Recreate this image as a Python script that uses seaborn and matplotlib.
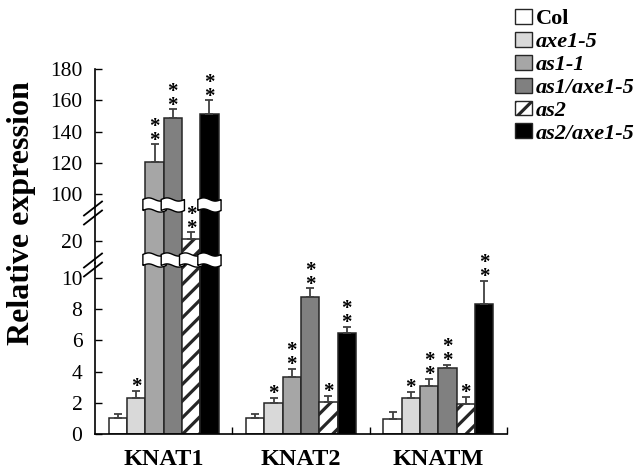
import numpy as np
import pandas as pd
import matplotlib
matplotlib.use('Agg')
import matplotlib.pyplot as plt
import matplotlib.transforms as mtransforms
from matplotlib.patches import Patch, Polygon
from matplotlib.lines import Line2D
import seaborn as sns

plt.rcParams['font.family'] = ['Liberation Serif', 'DejaVu Serif']
plt.rcParams['hatch.linewidth'] = 2.3

genes = ['KNAT1', 'KNAT2', 'KNATM']
genotypes = ['Col', 'axe1-5', 'as1-1', 'as1/axe1-5', 'as2', 'as2/axe1-5']
colors = ['#ffffff', '#d9d9d9', '#a6a6a6', '#808080', '#ffffff', '#000000']

# values, order = genes
col_mean = [1.0, 1.0, 0.96]
col_err = [0.26, 0.26, 0.47]
axe_mean = [2.3, 1.97, 2.29]
axe_err = [0.47, 0.36, 0.42]
as1_mean = [120.6, 3.67, 3.10]
as1_err = [11.2, 0.50, 0.43]
as1axe_mean = [148.4, 8.8, 4.21]
as1axe_err = [5.8, 0.54, 0.21]
as2_mean = [20.4, 2.07, 1.90]
as2_err = [1.3, 0.39, 0.49]
as2axe_mean = [150.9, 6.45, 8.33]
as2axe_err = [9.1, 0.43, 1.48]
# number of significance stars
col_stars = [0, 0, 0]
axe_stars = [1, 1, 1]
as1_stars = [2, 2, 2]
as1axe_stars = [2, 2, 2]
as2_stars = [2, 1, 1]
as2axe_stars = [2, 2, 2]

means = [col_mean, axe_mean, as1_mean, as1axe_mean, as2_mean, as2axe_mean]
errs = [col_err, axe_err, as1_err, as1axe_err, as2_err, as2axe_err]
stars = [col_stars, axe_stars, as1_stars, as1axe_stars, as2_stars, as2axe_stars]

df = pd.DataFrame([
    {'gene': g, 'genotype': gt, 'value': means[j][i]}
    for j, gt in enumerate(genotypes) for i, g in enumerate(genes)
])

W, H = 638, 472
fig = plt.figure(figsize=(W / 100, H / 100), dpi=100)

L, R = 95, 507
bounds = [(69, 207), (207, 263), (263, 434)]
ylims = [(91.7, 180), (15.6, 26.8), (0, 10.96)]
yticks = [[100, 120, 140, 160, 180], [20], [0, 2, 4, 6, 8, 10]]

axes = []
for k, ((top, bot), ylim, ticks) in enumerate(zip(bounds, ylims, yticks)):
    ax = fig.add_axes([L / W, 1 - bot / H, (R - L) / W, (bot - top) / H])
    sns.barplot(data=df, x='gene', y='value', hue='genotype', order=genes,
                hue_order=genotypes, palette=colors, saturation=1,
                errorbar=None, edgecolor='#262626', linewidth=1.1,
                legend=False, ax=ax)
    for bar in ax.containers[4]:
        bar.set_hatch('//')
    for j in range(len(genotypes)):
        xs = [b.get_x() + b.get_width() / 2 for b in ax.containers[j]]
        ax.errorbar(xs, means[j], yerr=[np.zeros(3), errs[j]], fmt='none',
                    ecolor='#404040', elinewidth=1.3, capsize=3, capthick=1.3)
        for i, x in enumerate(xs):
            ytop = means[j][i] + errs[j][i]
            n = stars[j][i]
            if n and ylim[0] < ytop < ylim[1]:
                ax.annotate('\n'.join(['*'] * n), xy=(x, ytop), xytext=(0, -4.5),
                            textcoords='offset points', ha='center', va='bottom',
                            fontsize=15, fontweight='bold', linespacing=0.6,
                            annotation_clip=False)
    ax.set_xlim(-0.5, 2.5)
    ax.set_ylim(*ylim)
    ax.set_yticks(ticks)
    ax.set_xlabel('')
    ax.set_ylabel('')
    ax.tick_params(axis='y', direction='in', length=5, width=1, labelsize=15.5, pad=9)
    for s in ['top', 'right']:
        ax.spines[s].set_visible(False)
    ax.spines['left'].set_linewidth(1.2)
    if k < 2:
        ax.spines['bottom'].set_visible(False)
        ax.set_xticks([])
    else:
        ax.spines['bottom'].set_linewidth(1.2)
        ax.set_xticks([0, 1, 2])
        ax.set_xticklabels(genes, fontsize=17.5, fontweight='bold')
        ax.set_xticks([0.5, 1.5, 2.5], minor=True)
        ax.tick_params(axis='x', which='major', length=0, pad=11)
        ax.tick_params(axis='x', which='minor', direction='in', length=5, width=1)
    ax.patch.set_alpha(0)
    axes.append(ax)

# white wavy bands across the bars where the axis is broken
ax_ref = axes[2]
trans = mtransforms.blended_transform_factory(ax_ref.transData, fig.transFigure)
t = np.linspace(0, 1, 40)
for yb_px, lim in [(205, ylims[1][1]), (260, ylims[2][1])]:
    yb = 1 - yb_px / H
    hh = 5.5 / H
    amp = 1.6 / H
    for j in range(len(genotypes)):
        for i, b in enumerate(ax_ref.containers[j]):
            if means[j][i] <= lim:
                continue
            pad = 0.018
            xs = b.get_x() - pad + t * (b.get_width() + 2 * pad)
            wave = amp * np.sin(2 * np.pi * t)
            pts = np.vstack([np.column_stack([xs, yb + hh + wave]),
                             np.column_stack([xs[::-1], (yb - hh + wave)[::-1]])])
            fig.add_artist(Polygon(pts, closed=True, transform=trans, facecolor='white',
                                   edgecolor='black', lw=1, zorder=5, clip_on=False))

# double slash break marks on the y axis
for yc in (213, 265):
    for dy in (-4.5, 4.5):
        y0 = yc + dy
        fig.add_artist(Line2D([84 / W, 102 / W], [1 - (y0 + 7) / H, 1 - (y0 - 7) / H],
                              color='black', lw=1.3))

fig.text(22 / W, 1 - 213 / H, 'Relative expression', rotation=90, ha='center',
         va='center', fontsize=23, fontweight='bold')

handles = [Patch(facecolor=c, edgecolor='#262626', lw=1) for c in colors]
handles[4].set_hatch('//')
leg = fig.legend(handles, genotypes, loc='upper left', bbox_to_anchor=(515 / W, 1 - 9 / H),
                 frameon=False, fontsize=16, handlelength=0.75, handleheight=0.65,
                 handletextpad=0.2, labelspacing=0.12, borderaxespad=0, borderpad=0)
for k, txt in enumerate(leg.get_texts()):
    txt.set_fontweight('bold')
    if k > 0:
        txt.set_fontstyle('italic')

fig.savefig('out.png', dpi=100)
